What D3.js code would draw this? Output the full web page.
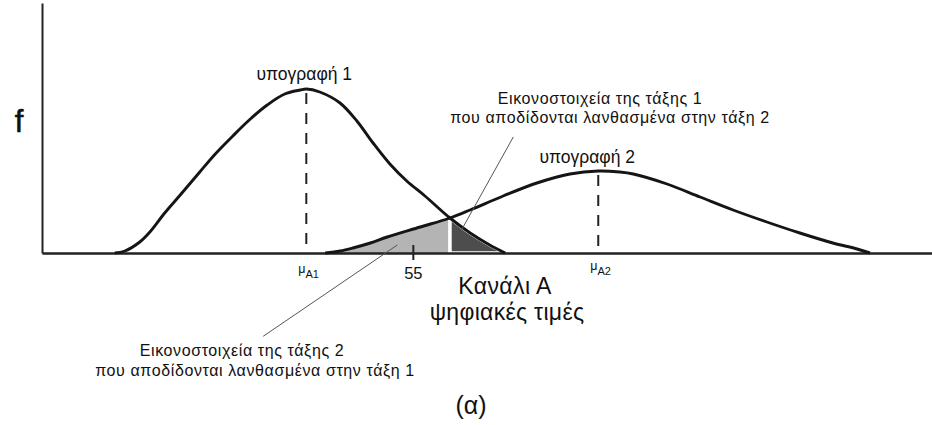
<!DOCTYPE html>
<html>
<head>
<meta charset="utf-8">
<script src="https://cdn.jsdelivr.net/npm/d3@7"></script>
<style>
  html, body { margin: 0; padding: 0; background: #fff; }
  svg { display: block; }
  text { font-family: "Liberation Sans", Arial, sans-serif; fill: #111; }
</style>
</head>
<body>
<svg id="chart" width="932" height="425"></svg>
<script>
// Digital values of channel A (x) and frequency f (y) for the two class signatures
const sig1X = [10.8, 12.3, 14.5, 16.0, 18.2, 20.5, 23.4, 25.7, 28.3, 30.9, 33.4, 36.0, 38.3, 39.2, 41.2, 44.2, 46.7, 49.1, 51.6, 54.1, 56.8, 60.5, 63.5, 66.4, 68.7];
const sig1F = [0, 0.012, 0.066, 0.126, 0.24, 0.348, 0.486, 0.594, 0.702, 0.804, 0.888, 0.954, 0.978, 0.984, 0.966, 0.90, 0.792, 0.66, 0.534, 0.432, 0.342, 0.21, 0.12, 0.048, 0];

const sig2X = [42.0, 44.2, 46.1, 48.7, 51.2, 56.1, 60.5, 63.5, 68.4, 73.4, 78.3, 82.5, 85.7, 87.7, 92.7, 97.6, 102.5, 107.5, 112.4, 117.3, 120.9, 122.8];
const sig2F = [0, 0.012, 0.03, 0.06, 0.096, 0.156, 0.21, 0.258, 0.342, 0.42, 0.474, 0.492, 0.486, 0.474, 0.414, 0.336, 0.258, 0.186, 0.12, 0.06, 0.024, 0];

// Class means and the decision boundary between the two classes
const meanA1 = 39.2;
const meanA2 = 82.5;
const boundary = 60.5;
const tickValues = [55];
const tickLabels = ["55"];

const signatureLabels = ["υπογραφή 1", "υπογραφή 2"];
const errorLabel1 = ["Εικονοστοιχεία της τάξης 1", "που αποδίδονται λανθασμένα στην τάξη 2"];
const errorLabel2 = ["Εικονοστοιχεία της τάξης 2", "που αποδίδονται λανθασμένα στην τάξη 1"];
const axisTitle = ["Κανάλι Α", "ψηφιακές τιμές"];
const yTitle = "f";
const caption = "(α)";

const svg = d3.select("#chart");
const x = d3.scaleLinear().domain([0, 132]).range([42, 932]);
const y = d3.scaleLinear().domain([0, 1.5]).range([253, 3]);

const pts1 = sig1X.map((v, i) => ({ x: v, f: sig1F[i] }));
const pts2 = sig2X.map((v, i) => ({ x: v, f: sig2F[i] }));

const smooth = d3.curveCatmullRom.alpha(0.5);
const line = d3.line().x(d => x(d.x)).y(d => y(d.f)).curve(smooth);
const area = d3.area().x(d => x(d.x)).y0(y(0)).y1(d => y(d.f)).curve(smooth);

// Class 2 pixels falling on the class 1 side (light grey)
svg.append("path")
  .datum(pts2.filter(d => d.x <= boundary))
  .attr("d", area)
  .attr("fill", "#b4b4b4");

// Class 1 pixels falling on the class 2 side (dark grey, white rim)
svg.append("path")
  .datum(pts1.filter(d => d.x >= boundary))
  .attr("d", area)
  .attr("fill", "#4d4d4d")
  .attr("stroke", "#fff")
  .attr("stroke-width", 3.6)
  .attr("stroke-linejoin", "miter");

// Axes
svg.append("g")
  .attr("transform", `translate(${x(0)},0)`)
  .call(d3.axisLeft(y).tickValues([]).tickSizeOuter(0))
  .call(g => g.select(".domain").attr("stroke", "#222").attr("stroke-width", 2));

const xAxis = svg.append("g")
  .attr("transform", `translate(0,${y(0)})`)
  .call(d3.axisBottom(x).tickValues(tickValues).tickSize(7).tickSizeOuter(0).tickFormat((d, i) => tickLabels[i]));
xAxis.select(".domain").attr("stroke", "#222").attr("stroke-width", 2.4);
xAxis.selectAll(".tick line").attr("stroke", "#222").attr("stroke-width", 2).attr("y1", -8);
xAxis.selectAll(".tick text")
  .attr("y", 26).attr("dy", 0)
  .attr("font-size", 16.5).attr("font-family", "Liberation Sans, Arial, sans-serif").attr("fill", "#111");

// Dashed mean lines
[[meanA1, pts1], [meanA2, pts2]].forEach(([m, pts]) => {
  const peak = d3.max(pts, d => d.f);
  svg.append("line")
    .attr("x1", x(m)).attr("x2", x(m))
    .attr("y1", y(peak) + 4).attr("y2", y(0))
    .attr("stroke", "#222").attr("stroke-width", 2)
    .attr("stroke-dasharray", "11,9");
});

// Signature curves
[pts1, pts2].forEach(pts => {
  svg.append("path")
    .datum(pts)
    .attr("d", line)
    .attr("fill", "none")
    .attr("stroke", "#151515")
    .attr("stroke-width", 2.9)
    .attr("stroke-linejoin", "round");
});

// Mean labels with subscripts
[[meanA1, "A1", 273], [meanA2, "A2", 270]].forEach(([m, sub, base]) => {
  const t = svg.append("text")
    .attr("x", x(m) - 8).attr("y", base)
    .attr("font-size", 12.5);
  t.append("tspan").text("μ");
  t.append("tspan").attr("font-size", 11).attr("dy", 5).text(sub);
});

// Leader lines for the misclassification notes
const leaders = [
  { from: [69.9, 0.696], to: [62.3, 0.144] },
  { from: [32.8, -0.50], to: [52.7, 0.048] }
];
leaders.forEach(l => {
  svg.append("line")
    .attr("x1", x(l.from[0])).attr("y1", y(l.from[1]))
    .attr("x2", x(l.to[0])).attr("y2", y(l.to[1]))
    .attr("stroke", "#555").attr("stroke-width", 1);
});

// Text labels
svg.append("text").attr("x", 19).attr("y", 132).attr("text-anchor", "middle")
  .attr("font-size", 31).attr("stroke", "#111").attr("stroke-width", 0.6).text(yTitle);

svg.append("text").attr("x", x(meanA1) - 2).attr("y", 80).attr("text-anchor", "middle")
  .attr("font-size", 17.5).text(signatureLabels[0]);
svg.append("text").attr("x", x(meanA2) - 11).attr("y", 163).attr("text-anchor", "middle")
  .attr("font-size", 17.5).text(signatureLabels[1]);

const note = { size: 16, spacing: 0.6 };
[[errorLabel1[0], 600, 104], [errorLabel1[1], 610, 123],
 [errorLabel2[0], 242, 356], [errorLabel2[1], 255, 376]].forEach(([s, cx, cy]) => {
  svg.append("text").attr("x", cx).attr("y", cy).attr("text-anchor", "middle")
    .attr("font-size", note.size).attr("letter-spacing", note.spacing).text(s);
});

svg.append("text").attr("x", 505).attr("y", 294).attr("text-anchor", "middle")
  .attr("font-size", 23).attr("letter-spacing", 0.4).text(axisTitle[0]);
svg.append("text").attr("x", 507).attr("y", 320).attr("text-anchor", "middle")
  .attr("font-size", 23).attr("letter-spacing", 0.3).text(axisTitle[1]);

svg.append("text").attr("x", 471).attr("y", 414).attr("text-anchor", "middle")
  .attr("font-size", 25).attr("font-family", "Liberation Serif, 'Times New Roman', serif")
  .text(caption);
</script>
</body>
</html>
